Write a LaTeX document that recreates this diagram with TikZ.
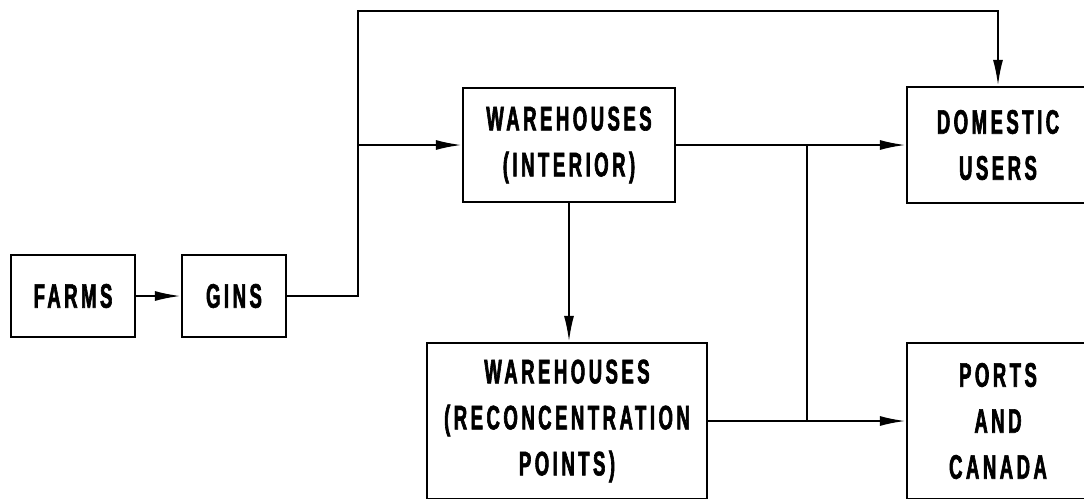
\documentclass[tikz,border=0pt]{standalone}
\usepackage{fontspec}
\usepackage{tikz}
\usetikzlibrary{arrows.meta,positioning}
\newfontfamily\boxfont{Liberation Sans Bold}[FakeStretch=0.545,FakeBold=1.8,LetterSpace=10.3]

\begin{document}
\begin{tikzpicture}[
  x=0.5pt,y=-0.5pt,
  stage/.style={draw,line width=1.1pt,align=center,inner sep=0pt,
    font={\fontsize{17pt}{23pt}\selectfont\boxfont}},
  arr/.style={-{Latex[length=13pt,width=5pt]},line width=1.1pt},
  link/.style={line width=1.1pt}
]
  \clip (0,0) rectangle (1084,499);
  \node[stage,minimum width=62pt,minimum height=41pt] (farms) at (73,296) {FARMS};
  \node[stage,minimum width=52pt,minimum height=41pt] (gins) at (234,296) {GINS};
  \node[stage,minimum width=106pt,minimum height=57pt] (interior) at (569,145)
    {WAREHOUSES\\(INTERIOR)};
  \node[stage,minimum width=140pt,minimum height=78pt] (recon) at (567,421)
    {WAREHOUSES\\(RECONCENTRATION\\POINTS)};
  \node[stage,minimum width=91pt,minimum height=58pt] (domestic) at (998,145)
    {DOMESTIC\\USERS};
  \node[stage,minimum width=91pt,minimum height=78pt] (ports) at (998,421)
    {PORTS\\AND\\CANADA};

  \coordinate (rise) at (358,11);
  \coordinate (split) at (358,145);
  \coordinate (joint) at (807,145);

  \draw[arr] (farms) -- (gins);
  \draw[arr] (gins.east) -| (rise) -| (domestic.north);
  \draw[arr] (split) -- (interior);
  \draw[arr] (interior) -- (domestic);
  \draw[arr] (interior.south) -- (interior.south |- recon.north);
  \draw[arr] (recon) -- (ports);
  \draw[link] (joint) -- (joint |- ports);
\end{tikzpicture}
\end{document}
